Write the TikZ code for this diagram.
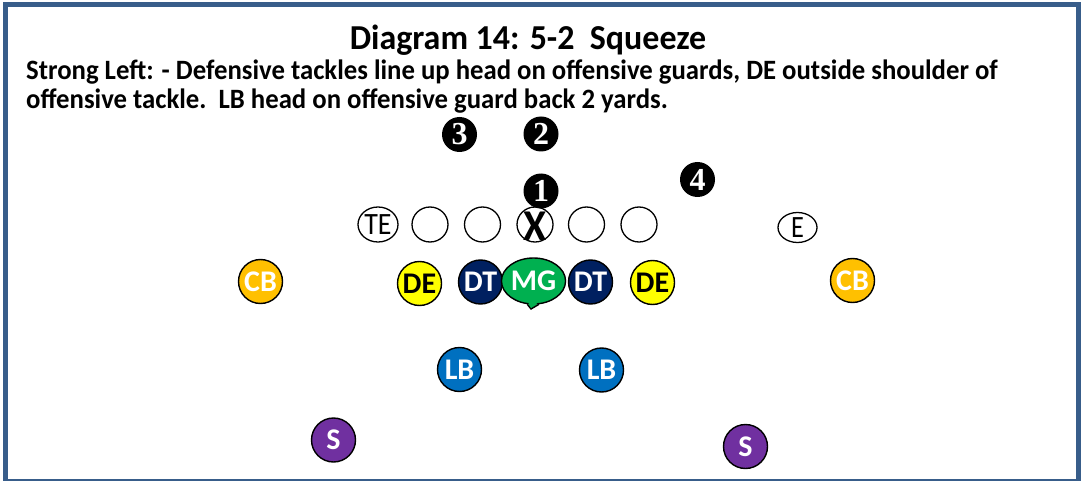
\documentclass[tikz,border=0pt]{standalone}
\usepackage{fontspec}
\setmainfont{Carlito}
\newfontfamily\digitfont{Liberation Serif}
\usetikzlibrary{shapes.geometric}
\definecolor{frameblue}{RGB}{56,93,138}
\definecolor{navy}{RGB}{0,32,96}
\definecolor{mggreen}{RGB}{0,176,80}
\definecolor{cbgold}{RGB}{255,192,0}
\definecolor{lbblue}{RGB}{0,112,192}
\definecolor{spurple}{RGB}{112,48,160}
\definecolor{deyellow}{RGB}{255,255,0}
\begin{document}
\begin{tikzpicture}[x=1pt,y=-1pt,
  defp/.style={circle, draw=black, line width=1.4pt, minimum size=44pt, inner sep=0pt,
    font=\fontsize{30}{30}\selectfont\bfseries},
  offp/.style={ellipse, draw=black, line width=1.3pt, minimum width=36pt, minimum height=35pt, inner sep=0pt,
    font=\fontsize{31}{31}\selectfont},
  nump/.style={circle, fill=black, minimum size=35pt, inner sep=0pt, text=white,
    font=\digitfont\bfseries\fontsize{32}{32}\selectfont},
  txt/.style={anchor=base west, inner sep=0pt, font=\fontsize{28}{28}\selectfont\bfseries}
]
\useasboundingbox (0,0) rectangle (1081,481);
\fill[white] (0,0) rectangle (1081,481);
\draw[frameblue, line width=5pt] (5.5,4.5) rectangle (1078.5,481.5);

% text
\node[anchor=base, inner sep=0pt, font=\fontsize{35}{35}\selectfont\bfseries] (title) at (528,50) {\scalebox{0.97}[1]{Diagram 14: 5-2\ \ Squeeze}};
\node[txt] (l1) at (26,80) {\scalebox{0.955}[1]{Strong Left: - Defensive tackles line up head on offensive guards, DE outside shoulder of}};
\node[txt] (l2) at (26,109) {\scalebox{0.955}[1]{offensive tackle.\ \ LB head on offensive guard back 2 yards.}};

% numbered holes
\node[nump] (n3) at (459.5,134.5) {3};
\node[nump] (n2) at (541,134) {2};
\node[nump] (n1) at (541,191) {1};
\node[nump] (n4) at (697.5,179.5) {4};

% offense
\node[offp, minimum width=40pt, minimum height=35pt] (te) at (378,224.5) {\scalebox{0.9}[1]{TE}};
\node[offp] (ot1) at (430,224.5) {};
\node[offp] (og1) at (482.5,224.5) {};
\node[offp] (c) at (535,224.5) {};
\node[inner sep=0pt, font=\fontsize{44}{44}\selectfont\bfseries] (x) at (535,226) {\scalebox{0.95}[1]{X}};
\node[offp] (og2) at (586.5,224.5) {};
\node[offp] (ot2) at (639,224.5) {};
\node[offp, minimum width=39pt, minimum height=30pt] (e) at (797.5,227.5) {\scalebox{0.85}[1]{E}};

% defense
\node[defp, fill=cbgold, text=white] (cb1) at (260.5,281.5) {CB};
\node[defp, fill=deyellow, text=black] (de1) at (419.5,283.5) {DE};
\node[defp, fill=navy, text=white] (dt1) at (480.5,282) {DT};
\coordinate (tip) at (531,309);
\node[defp, ellipse, minimum width=50pt, minimum height=46pt, fill=mggreen, text=white] (mg) at (533.5,281) {MG};
\draw[line width=1.4pt, fill=mggreen, line join=miter] (mg.255) -- (tip) -- (mg.283);
\fill[mggreen] ([yshift=2pt]mg.257) -- ([yshift=1pt]tip) -- ([yshift=2pt]mg.281) -- cycle;
\node[defp, fill=navy, text=white] (dt2) at (590.5,282) {DT};
\node[defp, fill=deyellow, text=black] (de2) at (652.5,282.5) {DE};
\node[defp, fill=cbgold, text=white] (cb2) at (852.5,280.5) {CB};
\node[defp, fill=lbblue, text=white] (lb1) at (459.5,369.5) {LB};
\node[defp, fill=lbblue, text=white] (lb2) at (601.5,370) {LB};
\node[defp, fill=spurple, text=white] (s1) at (333.5,440) {S};
\node[defp, fill=spurple, text=white] (s2) at (745.5,446.5) {S};
\end{tikzpicture}
\end{document}
